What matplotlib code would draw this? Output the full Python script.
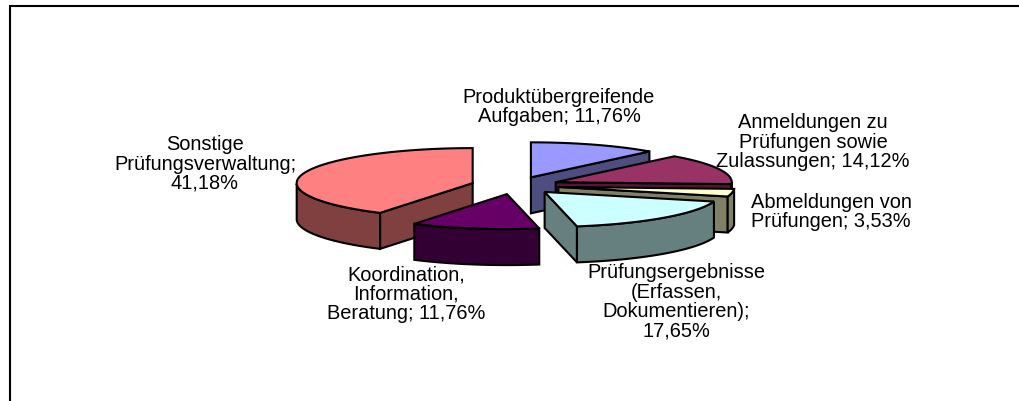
import numpy as np
import matplotlib
matplotlib.use("Agg")
import matplotlib.pyplot as plt
from matplotlib.patches import Polygon

labels = ["Produktübergreifende\nAufgaben; 11,76%",
          "Anmeldungen zu\nPrüfungen sowie\nZulassungen; 14,12%",
          "Abmeldungen von\nPrüfungen; 3,53%",
          "Prüfungsergebnisse\n(Erfassen,\nDokumentieren);\n17,65%",
          "Koordination,\nInformation,\nBeratung; 11,76%",
          "Sonstige\nPrüfungsverwaltung;\n41,18%"]
values = [11.76, 14.12, 3.53, 17.65, 11.76, 41.18]
top_colors = ["#9999ff", "#993366", "#ffffcc", "#ccffff", "#660066", "#ff8080"]
side_colors = ["#4d4d80", "#4d1a33", "#808066", "#668080", "#330033", "#804040"]
label_x = [559, 813, 831, 676, 406, 205]
label_y = [107, 142, 212, 302, 294, 164]
draw_order = [5, 0, 1, 2, 3, 4]

W, H = 1019, 401
cx, cy = 515, 185.5
rx, ry = 176, 35
depth = 36
explode = 44

fig = plt.figure(figsize=(W / 100, H / 100), dpi=100)
ax = fig.add_axes([0, 0, 1, 1])
ax.set_xlim(0, W)
ax.set_ylim(H, 0)
ax.axis("off")

# chart frame: only left and top show, the rest is cut off
ax.plot([10, 10, W], [H, 6, 6], color="black", lw=1.5, solid_joinstyle="miter", solid_capstyle="butt")

angles = np.concatenate([[0], np.cumsum(values) / np.sum(values) * 360])
down = np.array([0, depth])


def wall(pts, color, z):
    # a strip under pts, as deep as the pie
    pts = np.array(pts)
    ax.add_patch(Polygon(np.vstack([pts, pts[::-1] + down]), closed=True, facecolor=color,
                         edgecolor="black", lw=1.5, joinstyle="miter", zorder=z))


for z, i in enumerate(draw_order):
    a0, a1 = angles[i], angles[i + 1]
    mid = np.radians((a0 + a1) / 2)
    ox = cx + explode * np.sin(mid)
    oy = cy - explode * np.cos(mid) * ry / rx
    t = np.linspace(a0, a1, 120)
    arc = np.column_stack([ox + rx * np.sin(np.radians(t)), oy - ry * np.cos(np.radians(t))])
    col = side_colors[i]

    # only the walls that face the viewer
    if np.sin(np.radians(a0)) < -1e-6:
        wall([[ox, oy], arc[0]], col, z * 3 + 1)
    if np.sin(np.radians(a1)) > 1e-6:
        wall([arc[-1], [ox, oy]], col, z * 3 + 1)
    front = (t > 90) & (t < 270)
    if front.sum() > 1:
        wall(arc[front], col, z * 3 + 2)

    ax.add_patch(Polygon(np.vstack([[ox, oy], arc]), closed=True, facecolor=top_colors[i],
                         edgecolor="black", lw=1.5, joinstyle="miter", zorder=z * 3 + 3))

for i in range(len(values)):
    ax.text(label_x[i], label_y[i], labels[i], ha="center", va="center", fontsize=14.4,
            family="Liberation Sans", linespacing=1.03, zorder=40)

fig.savefig("out.png", dpi=100)
